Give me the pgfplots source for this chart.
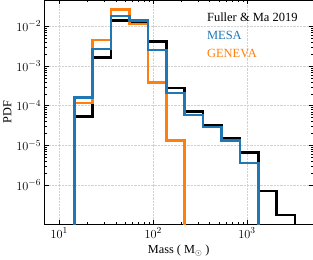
\documentclass[border=0pt]{standalone}
\usepackage{pgfplots}
\pgfplotsset{compat=1.18}
\usepackage{fontspec}
\setmainfont{Liberation Serif}
\definecolor{mplblue}{HTML}{1F77B4}
\definecolor{mplorange}{HTML}{FF7F0E}
\begin{document}
\begin{tikzpicture}
\begin{axis}[
 scale only axis, width=261bp, height=218bp,
 xmode=log, ymode=log,
 xmin=7, xmax=5000, ymin=1.05e-7, ymax=0.045,
 xtick={10,100,1000}, ytick={1e-6,1e-5,1e-4,1e-3,1e-2},
 grid=major, grid style={densely dotted, gray!35, line width=0.5pt},
 tick align=inside, major tick length=4bp, minor tick length=2bp,
 tick style={black, line width=0.5pt},
 xlabel={Mass ( $\mathrm{M}_{\odot}$ )}, ylabel={PDF},
 tick label style={font=\fontsize{12.2}{14}\selectfont},
 label style={font=\fontsize{12}{14}\selectfont},
 ylabel style={yshift=-2pt},
 clip=true,
]
\addplot[black, line width=2.5pt, const plot] coordinates {
 (14.45,1e-9) (14.45,5.4e-5) (22.7,1.66e-3) (35.6,0.014) (56.0,0.013) (87.9,4.1e-3)
 (138,2.8e-4) (216.8,7.2e-5) (340,3.15e-5) (535,1.48e-5) (839,6.6e-6)
 (1318,7.2e-7) (2070,1.78e-7) (3251,1e-9)};
\addplot[mplorange, line width=2.5pt, const plot] coordinates {
 (14.45,1e-9) (14.45,1.17e-4) (22.7,4.5e-3) (35.6,0.026) (56.0,0.0115) (87.9,3.9e-4)
 (138,1.33e-5) (216.8,1e-9)};
\addplot[mplblue, line width=2.5pt, const plot] coordinates {
 (14.45,1e-9) (14.45,1.6e-4) (22.7,2.7e-3) (35.6,0.018) (56.0,0.014) (87.9,2.5e-3)
 (138,2.1e-4) (216.8,5.9e-5) (340,2.95e-5) (535,1.32e-5) (839,3.6e-6) (1318,1e-9)};
\node[anchor=north west, align=left, inner sep=0pt, font=\fontsize{12.2}{17.5}\selectfont]
 at (rel axis cs:0.605,0.945) {\textcolor{black}{Fuller \& Ma 2019}\\\textcolor{mplblue}{MESA}\\\textcolor{mplorange}{GENEVA}};
\end{axis}
\end{tikzpicture}
\end{document}
